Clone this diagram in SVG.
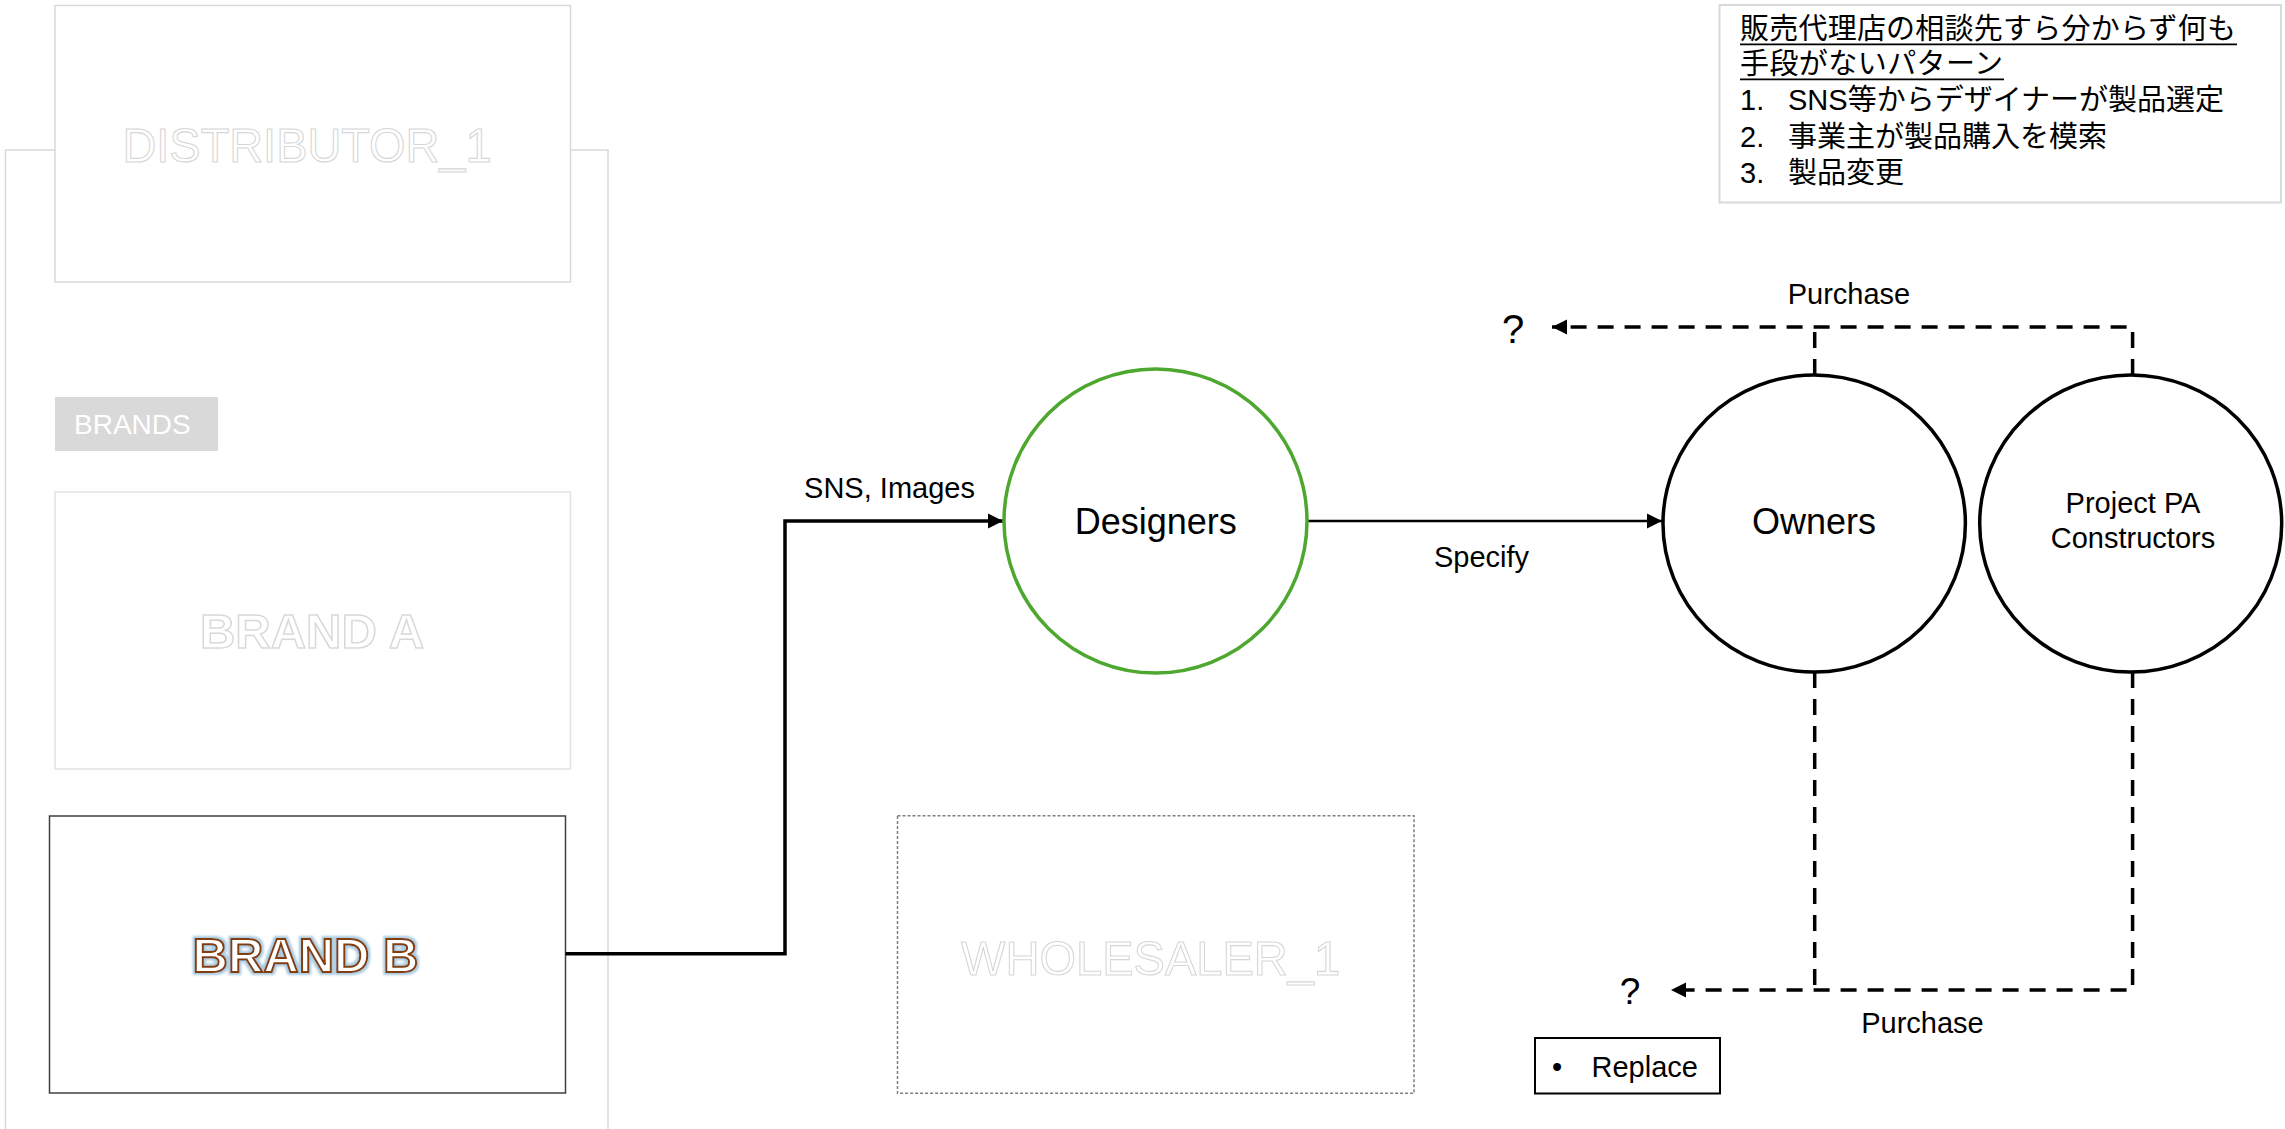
<svg xmlns="http://www.w3.org/2000/svg" width="2285" height="1129" viewBox="0 0 2285 1129">
<style>
text{font-family:"Liberation Sans",Arial,sans-serif;fill:#000}
.lbl{font-size:29px}
.big{font-size:36px}
.ghost{font-size:49px;fill:#fff;stroke:#d6d6d6;stroke-width:1.1}
.ghostb{font-size:49px;font-weight:bold;fill:#fff;stroke:#d9d9d9;stroke-width:1.5}
.jp{font-family:"Liberation Sans","Noto Sans CJK JP",sans-serif;font-size:29px}
.lt{fill:#fff;stroke:#d9d9d9;stroke-width:1.5}
.dash{fill:none;stroke:#000;stroke-width:3.5;stroke-dasharray:16 11}
</style>
<defs>
<marker id="ah" markerUnits="userSpaceOnUse" markerWidth="16" markerHeight="16" viewBox="0 0 16 16" refX="15" refY="8" orient="auto">
<path d="M0,0.5 L15,8 L0,15.5 Z" fill="#000"/>
</marker>
<filter id="glow" x="-10%" y="-30%" width="120%" height="160%">
<feMorphology in="SourceAlpha" operator="dilate" radius="1.5" result="d"/>
<feGaussianBlur in="d" stdDeviation="1" result="b"/>
<feFlood flood-color="#a9cade"/>
<feComposite in2="b" operator="in" result="g"/>
<feMerge><feMergeNode in="g"/><feMergeNode in="SourceGraphic"/></feMerge>
</filter>
</defs>

<g id="distributor_frame">
<rect x="5.5" y="150" width="602.5" height="1010" fill="none" stroke="#d9d9d9" stroke-width="1.5"/>
</g>
<g id="distributor_1">
<rect x="55" y="5.5" width="515.5" height="276.5" class="lt"/>
<text x="307" y="162" text-anchor="middle" class="ghost" textLength="369" lengthAdjust="spacingAndGlyphs">DISTRIBUTOR_1</text>
</g>
<g id="brands_label">
<rect x="55" y="397" width="163" height="54" fill="#d9d9d9"/>
<text x="74" y="434" font-size="28" style="fill:#fff">BRANDS</text>
</g>
<g id="brand_a">
<rect x="55" y="492" width="515.5" height="277" class="lt" style="stroke:#e3e3e3"/>
<text x="312" y="648" text-anchor="middle" class="ghostb">BRAND A</text>
</g>
<g id="brand_b">
<rect x="49.5" y="816" width="516" height="277" fill="#fff" stroke="#404040" stroke-width="1.5"/>
<text x="305.5" y="972" text-anchor="middle" font-size="49" font-weight="bold" style="fill:#fff;stroke:#843c0c;stroke-width:2" filter="url(#glow)">BRAND B</text>
</g>
<g id="wholesaler_1">
<rect x="897.5" y="815.7" width="516.5" height="277.6" fill="#fff" stroke="#7f7f7f" stroke-width="1.5" stroke-dasharray="3 2"/>
<text x="1150.6" y="975" text-anchor="middle" class="ghost" textLength="379" lengthAdjust="spacingAndGlyphs">WHOLESALER_1</text>
</g>

<g id="connectors">
<path d="M565.5,953.7 H785 V521 H1003" fill="none" stroke="#000" stroke-width="3.5" marker-end="url(#ah)"/>
<path d="M1307,521 H1662" fill="none" stroke="#000" stroke-width="2.5" marker-end="url(#ah)"/>
<path d="M1814.7,375 V327" class="dash"/>
<path d="M2132.6,375 V327 H1552" class="dash" marker-end="url(#ah)"/>
<path d="M1814.7,672 V990" class="dash"/>
<path d="M2132.6,672 V990 H1671" class="dash" marker-end="url(#ah)"/>
</g>

<g id="designers">
<ellipse cx="1155.5" cy="521" rx="151.5" ry="152" fill="#fff" stroke="#4ea72e" stroke-width="3.5"/>
<text x="1155.7" y="534" text-anchor="middle" class="big">Designers</text>
</g>
<g id="owners">
<ellipse cx="1814.2" cy="523.5" rx="151.2" ry="148.5" fill="#fff" stroke="#000" stroke-width="3.5"/>
<text x="1814" y="534" text-anchor="middle" class="big">Owners</text>
</g>
<g id="project_pa_constructors">
<ellipse cx="2130.7" cy="523.5" rx="151" ry="148.5" fill="#fff" stroke="#000" stroke-width="3.5"/>
<text x="2133" y="513" text-anchor="middle" class="lbl">Project PA</text>
<text x="2133" y="548" text-anchor="middle" class="lbl">Constructors</text>
</g>

<g id="labels">
<text x="889.5" y="498" text-anchor="middle" class="lbl">SNS, Images</text>
<text x="1481.5" y="567" text-anchor="middle" class="lbl">Specify</text>
<text x="1849" y="304" text-anchor="middle" class="lbl">Purchase</text>
<text x="1922.5" y="1033" text-anchor="middle" class="lbl">Purchase</text>
<text x="1513" y="343" text-anchor="middle" font-size="40">?</text>
<text x="1630" y="1004" text-anchor="middle" font-size="37">?</text>
</g>

<g id="replace_note">
<rect x="1535" y="1038" width="185" height="55.5" fill="#fff" stroke="#000" stroke-width="2"/>
<text x="1552" y="1077" class="lbl">•</text>
<text x="1591.5" y="1077" class="lbl">Replace</text>
</g>

<g id="pattern_note">
<rect x="1719.5" y="5" width="561.5" height="197.5" fill="#fff" stroke="#d9d9d9" stroke-width="2"/>
<text x="1740" y="39" class="jp" textLength="496" lengthAdjust="spacing">販売代理店の相談先すら分からず何も</text>
<line x1="1740" y1="44.3" x2="2237" y2="44.3" stroke="#000" stroke-width="1.7"/>
<text x="1740" y="74" class="jp" textLength="263" lengthAdjust="spacing">手段がないパターン</text>
<line x1="1740" y1="79.3" x2="2004" y2="79.3" stroke="#000" stroke-width="1.7"/>
<text x="1740" y="110" class="jp">1.</text>
<text x="1788" y="110" class="jp">SNS等からデザイナーが製品選定</text>
<text x="1740" y="147" class="jp">2.</text>
<text x="1788" y="147" class="jp">事業主が製品購入を模索</text>
<text x="1740" y="183" class="jp">3.</text>
<text x="1788" y="183" class="jp">製品変更</text>
</g>
</svg>
